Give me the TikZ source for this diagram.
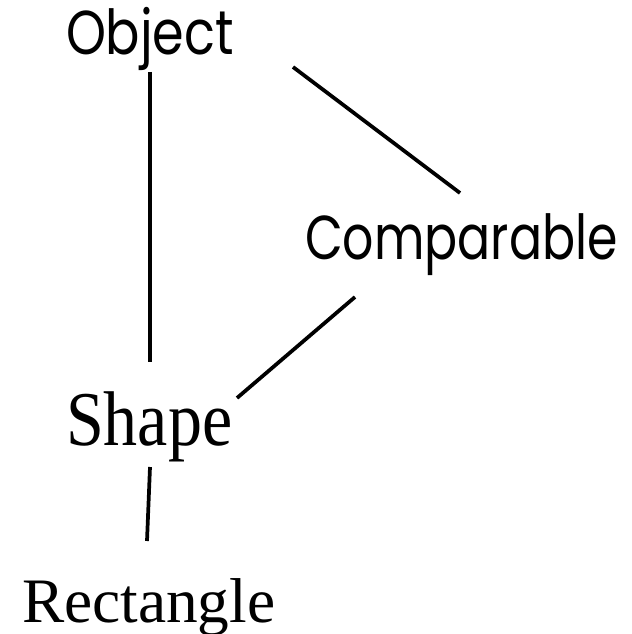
\documentclass[tikz,border=0pt]{standalone}
\usepackage{fontspec}
\usetikzlibrary{calc}
\newfontfamily\geofont{Poppins}
\newfontfamily\timesfont{Liberation Serif}
\begin{document}
\begin{tikzpicture}[x=0.75pt,y=-0.75pt,
  lbl/.style={inner sep=0pt,outer sep=0pt,anchor=base west},
  sanslbl/.style={lbl,font=\geofont\fontsize{46.5}{52}\selectfont},
  seriflbl/.style={lbl,font=\timesfont\fontsize{47.5}{52}\selectfont},
  link/.style={line width=2.8pt,line cap=butt}]
\useasboundingbox[fill=white] (0,0) rectangle (631,634);
\node[sanslbl] (obj) at (66,55) {\scalebox{0.82}[1]{Object}};
\node[sanslbl] (cmp) at (305,260) {\scalebox{0.79}[1]{Comparable}};
\node[lbl,font=\timesfont\fontsize{51}{56}\selectfont] (shp) at (66,445) {\scalebox{1}[1.14]{Shape}};
\node[seriflbl] (rct) at (22,622) {Rectangle};
\draw[link] ($(obj.base west)+(84,17)$) -- ($(shp.base west)+(84,-83)$);
\draw[link] ($(obj.base west)+(227,12)$) -- ($(cmp.base west)+(155,-67)$);
\draw[link] ($(cmp.base west)+(50,37)$) -- ($(shp.base west)+(171,-47)$);
\draw[link] ($(shp.base west)+(84,22)$) -- ($(rct.base west)+(125,-81)$);
\end{tikzpicture}
\end{document}
